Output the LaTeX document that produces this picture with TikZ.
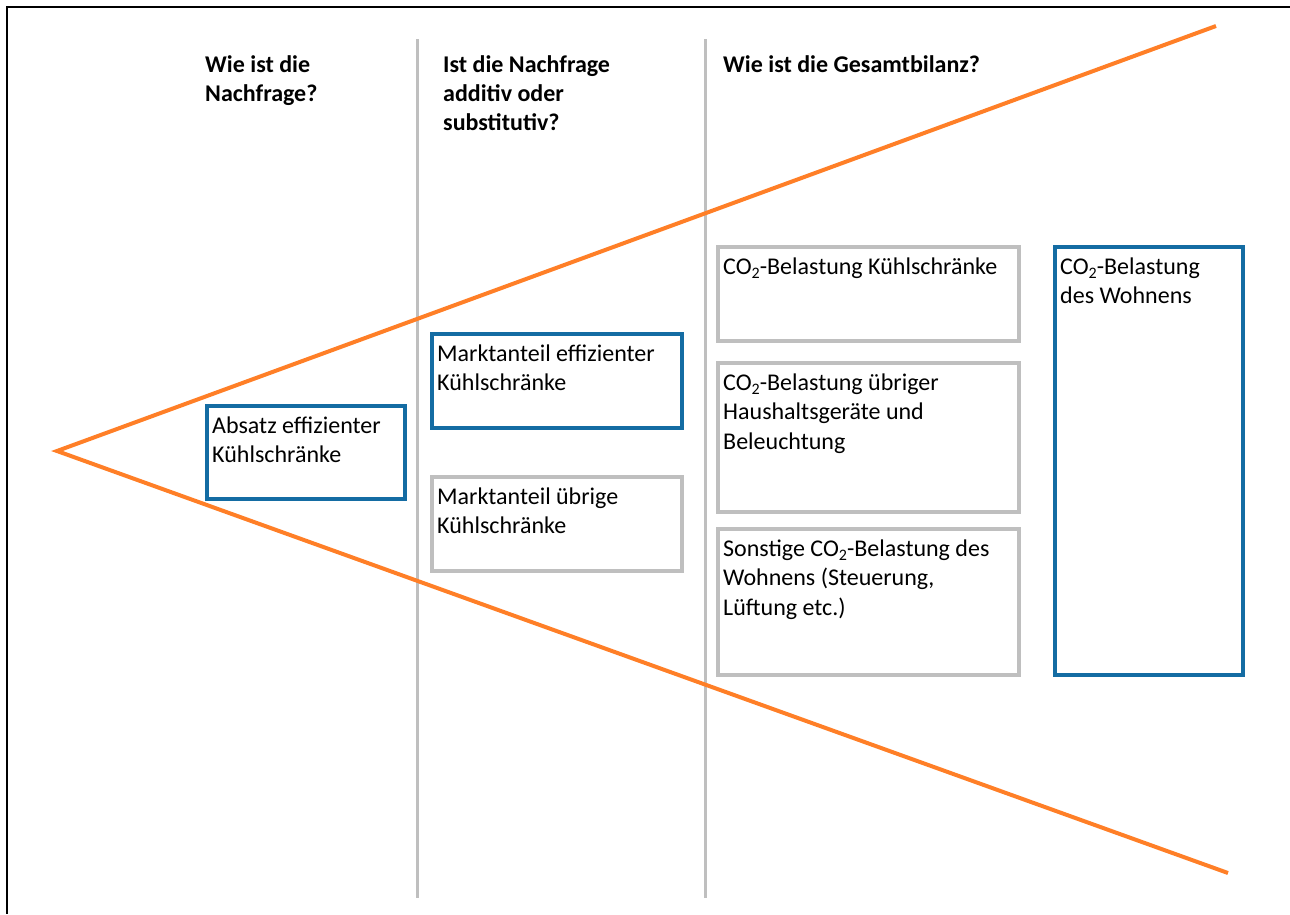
\documentclass[tikz,border=0pt]{standalone}
\usepackage{fontspec}
\setmainfont{Carlito}
\usetikzlibrary{positioning}

\definecolor{fanorange}{RGB}{255,127,39}
\definecolor{boxblue}{RGB}{20,108,163}
\definecolor{boxgray}{RGB}{191,191,191}

\newcommand{\boxfont}{\fontsize{24}{29.3}\selectfont}
\newcommand{\COtwo}{CO\raisebox{-4.5pt}{\fontsize{16}{16}\selectfont 2}}

\tikzset{
  box/.style={draw, line width=3.5pt, fill=white, inner sep=0pt, anchor=north west},
  bluebox/.style={box, draw=boxblue},
  graybox/.style={box, draw=boxgray},
  boxtext/.style={anchor=north west, inner sep=0pt, align=left, font=\boxfont},
  head/.style={anchor=north west, inner sep=0pt, align=left, font=\boxfont\bfseries},
  fan/.style={draw=fanorange, line width=4pt},
  divider/.style={draw=boxgray, line width=3pt},
}

\begin{document}
\begin{tikzpicture}[x=1pt,y=-1pt]
    \useasboundingbox (0,0) rectangle (1290,914);

    % frame
    \coordinate (frametr) at (1290,7);
    \coordinate (frametl) at (7,7);
    \coordinate (framebl) at (7,914);
    \draw[line width=2.5pt] (frametr) -- (frametl) -- (framebl);

    % column dividers
    \coordinate (dAtop) at (417,39);
    \coordinate (dAbot) at (417,898);
    \coordinate (dBtop) at (705,39);
    \coordinate (dBbot) at (705,898);
    \draw[divider] (dAtop) -- (dAbot);
    \draw[divider] (dBtop) -- (dBbot);

    % fan
    \coordinate (apex) at (57,451);
    \coordinate (fantop) at (1216,26);
    \coordinate (fanbot) at (1228,873);
    \draw[fan] (fantop) -- (apex) -- (fanbot);

    % headings
    \node (headA) at (205,51.5) [head] {\strut Wie ist die\\Nachfrage?};
    \node (headB) at (443,51.5) [head] {\strut Ist die Nachfrage\\additiv oder\\substitutiv?};
    \node (headC) at (723,51.5) [head] {\strut Wie ist die Gesamtbilanz?};

    % boxes
    \node (absatz) at (205,404) [bluebox, minimum width=198, minimum height=93] {};
    \node[boxtext] at ([xshift=7pt,yshift=-8.7pt]absatz.north west) {\strut Absatz effizienter\\Kühlschränke};

    \node (markteff) at (430,332) [bluebox, minimum width=250, minimum height=94] {};
    \node[boxtext] at ([xshift=7pt,yshift=-8.7pt]markteff.north west) {\strut Marktanteil effizienter\\Kühlschränke};

    \node (marktrest) at (430,475) [graybox, minimum width=250, minimum height=94] {};
    \node[boxtext] at ([xshift=7pt,yshift=-8.7pt]marktrest.north west) {\strut Marktanteil übrige\\Kühlschränke};

    \node (cokuehl) at (716,245) [graybox, minimum width=301, minimum height=94] {};
    \node[boxtext] at ([xshift=7pt,yshift=-8.7pt]cokuehl.north west) {\strut \COtwo-Belastung Kühlschränke};

    \node (cogeraete) at (716,361) [graybox, minimum width=301, minimum height=149] {};
    \node[boxtext] at ([xshift=7pt,yshift=-8.7pt]cogeraete.north west) {\strut \COtwo-Belastung übriger\\Haushaltsgeräte und\\Beleuchtung};

    \node (cosonst) at (716,527) [graybox, minimum width=301, minimum height=146] {};
    \node[boxtext] at ([xshift=7pt,yshift=-8.7pt]cosonst.north west) {\strut Sonstige \COtwo-Belastung des\\Wohnens (Steuerung,\\Lüftung etc.)};

    \node (cowohnen) at (1053,245) [bluebox, minimum width=188, minimum height=428] {};
    \node[boxtext] at ([xshift=7pt,yshift=-8.7pt]cowohnen.north west) {\strut \COtwo-Belastung\\des Wohnens};

\end{tikzpicture}
\end{document}
